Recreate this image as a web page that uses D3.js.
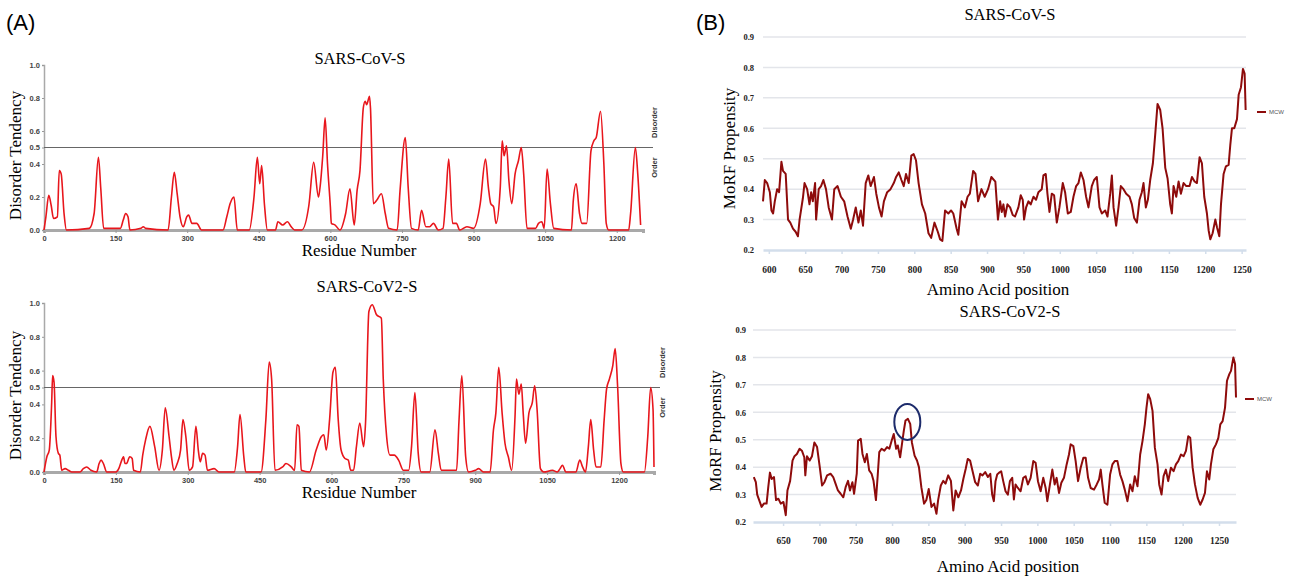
<!DOCTYPE html>
<html>
<head>
<meta charset="utf-8">
<script src="https://cdn.jsdelivr.net/npm/d3@7"></script>
<style>
  body { margin: 0; background: #fff; }
  .serif { font-family: "Liberation Serif", "DejaVu Serif", serif; }
  .sans { font-family: "Liberation Sans", Arial, sans-serif; }
</style>
</head>
<body>
<div id="chart"></div>
<script>
// ---- data ----
// (A) disorder tendency, [residue, score]
const disorderCoV = [[0,0],[4,0.08],[10,0.21],[15,0.15],[20,0.07],[28,0.08],[32,0.36],[36,0.34],[42,0.1],[47,0],[95,0.01],[105,0.1],[114,0.44],[119,0.25],[125,0.01],[160,0.01],[166,0.06],[171,0.10],[176,0.08],[180,0],[203,0.01],[208,0.02],[213,0.01],[260,0],[267,0.2],[273,0.35],[279,0.22],[285,0.08],[292,0.02],[299,0.08],[303,0.09],[310,0.04],[320,0.04],[330,0],[375,0],[383,0.08],[390,0.16],[398,0.20],[405,0],[430,0],[440,0.2],[447,0.44],[452,0.28],[456,0.39],[462,0.15],[468,0],[485,0],[490,0.05],[500,0.03],[510,0.05],[518,0.02],[525,0],[540,0],[555,0.15],[565,0.41],[575,0.2],[578,0.25],[584,0.45],[589,0.68],[594,0.4],[600,0.14],[602,0.04],[610,0.03],[620,0],[632,0.1],[641,0.25],[650,0.03],[656,0.24],[662,0.36],[669,0.74],[673,0.78],[676,0.76],[682,0.81],[684,0.74],[690,0.16],[697,0.18],[707,0.22],[715,0.1],[722,0.01],[740,0],[746,0.24],[757,0.56],[763,0.26],[770,0.01],[784,0],[791,0.12],[800,0.02],[808,0.02],[816,0.04],[826,0],[836,0.01],[842,0.2],[848,0.43],[856,0.04],[864,0.04],[871,0],[886,0.02],[900,0.01],[914,0.16],[925,0.43],[931,0.26],[936,0.16],[942,0.14],[947,0.04],[956,0.26],[960,0.54],[964,0.45],[969,0.51],[974,0.30],[980,0.16],[987,0.34],[994,0.42],[1000,0.50],[1005,0.34],[1012,0.01],[1030,0.01],[1036,0.04],[1043,0.05],[1048,0.01],[1054,0.37],[1061,0.16],[1068,0.01],[1105,0],[1109,0.18],[1115,0.28],[1122,0.1],[1127,0.04],[1137,0.04],[1146,0.48],[1152,0.54],[1157,0.56],[1166,0.72],[1173,0.40],[1178,0.04],[1183,0],[1225,0],[1229,0.10],[1239,0.5],[1244,0.34],[1250,0.03]];

const disorderCoV2 = [[0,0],[6,0.09],[11,0.13],[16,0.41],[18,0.57],[21,0.53],[25,0.21],[30,0.11],[33,0.10],[37,0.01],[44,0.02],[51,0.01],[58,0],[75,0],[82,0.02],[89,0.03],[98,0.01],[110,0],[115,0.05],[119,0.07],[124,0.05],[131,0],[150,0],[156,0.02],[161,0.06],[166,0.09],[169,0.05],[172,0.05],[179,0.09],[184,0.08],[187,0.01],[201,0],[206,0.1],[212,0.19],[221,0.27],[231,0.15],[240,0.01],[247,0.13],[253,0.38],[261,0.21],[266,0.09],[271,0.01],[278,0.05],[285,0.13],[290,0.31],[296,0.21],[303,0.01],[310,0.03],[317,0.27],[322,0.13],[326,0.06],[331,0.11],[336,0.10],[341,0.01],[355,0.02],[365,0],[397,0],[404,0.15],[409,0.34],[417,0.09],[421,0],[453,0],[463,0.31],[470,0.65],[475,0.55],[482,0.01],[498,0.03],[505,0.05],[516,0.03],[523,0.01],[528,0.28],[532,0.27],[537,0.01],[554,0],[568,0.13],[579,0.21],[584,0.22],[589,0.13],[596,0.31],[603,0.59],[608,0.62],[614,0.31],[620,0.13],[628,0.08],[635,0.07],[640,0.01],[646,0.01],[652,0.15],[659,0.29],[667,0.15],[671,0.29],[678,0.95],[685,0.99],[694,0.93],[704,0.91],[708,0.55],[715,0.21],[722,0.10],[731,0.10],[740,0.07],[750,0.01],[761,0.01],[767,0.15],[774,0.47],[781,0.11],[787,0],[805,0],[816,0.25],[823,0.11],[829,0.01],[844,0.01],[861,0.01],[866,0.3],[872,0.57],[880,0.09],[886,0],[900,0.01],[907,0.02],[917,0],[931,0],[938,0.25],[943,0.35],[949,0.62],[956,0.35],[962,0.17],[969,0.09],[976,0.01],[983,0.33],[986,0.55],[991,0.46],[996,0.52],[1000,0.35],[1005,0.17],[1012,0.35],[1019,0.41],[1024,0.51],[1029,0.37],[1036,0.02],[1043,0],[1061,0.01],[1071,0],[1077,0.02],[1082,0.04],[1089,0],[1110,0],[1118,0.07],[1124,0.03],[1130,0],[1136,0.15],[1141,0.31],[1147,0.13],[1152,0.03],[1162,0.03],[1169,0.31],[1174,0.49],[1180,0.55],[1187,0.63],[1192,0.73],[1197,0.51],[1204,0.05],[1209,0],[1253,0],[1260,0.21],[1266,0.5],[1271,0.37],[1273,0.03]];

// (B) MoRF propensity (MCW), [position, score]
const morfCoV = [[592,0.36],[594.5,0.43],[597.7,0.42],[601.4,0.39],[603.6,0.33],[605.9,0.32],[608.2,0.36],[611.4,0.40],[614.1,0.39],[617.3,0.49],[619.5,0.46],[623.2,0.45],[626.4,0.30],[629.5,0.29],[633.2,0.27],[636.8,0.26],[640,0.245],[642.3,0.30],[646.8,0.37],[649.1,0.42],[652.7,0.40],[655.9,0.35],[658.2,0.39],[660.5,0.36],[663.6,0.42],[665,0.30],[668.6,0.40],[671.8,0.41],[675,0.43],[678.6,0.40],[682.3,0.34],[686.8,0.30],[690,0.40],[694.5,0.41],[699.1,0.375],[703.6,0.36],[708.2,0.31],[712.7,0.27],[715.9,0.30],[719.5,0.34],[723.2,0.29],[726.4,0.33],[729.5,0.28],[733.2,0.42],[736.8,0.445],[740,0.41],[744.5,0.44],[747.7,0.385],[751.4,0.34],[755,0.31],[758.2,0.36],[762.7,0.39],[767.3,0.40],[771.8,0.42],[775,0.44],[778.6,0.455],[782.3,0.43],[785.5,0.41],[788.6,0.45],[792.3,0.42],[795.9,0.51],[799.1,0.515],[802.3,0.495],[805.9,0.42],[810.5,0.35],[815,0.32],[819.5,0.255],[823.2,0.24],[827.7,0.29],[832.3,0.26],[835.5,0.235],[838.6,0.23],[842.3,0.33],[846.8,0.32],[850.5,0.33],[853.6,0.32],[858.2,0.27],[860.5,0.25],[865,0.36],[869.5,0.34],[873.2,0.375],[876.4,0.385],[880.9,0.46],[884.1,0.45],[887.7,0.36],[892.3,0.40],[896.8,0.375],[901.4,0.40],[905.9,0.44],[911.4,0.425],[915,0.30],[918,0.36],[920.2,0.325],[922.5,0.35],[924.8,0.31],[928,0.35],[931.7,0.34],[935.3,0.315],[938.5,0.31],[943.1,0.34],[946.3,0.38],[949.1,0.365],[950.9,0.30],[953.7,0.34],[956.9,0.36],[960.1,0.35],[963.8,0.375],[967.4,0.365],[970.6,0.39],[975.2,0.40],[977.5,0.445],[980.7,0.45],[983,0.385],[985.8,0.325],[989,0.385],[992.2,0.38],[995.9,0.29],[999.5,0.34],[1004.1,0.42],[1007.3,0.39],[1011,0.32],[1015.1,0.325],[1018.8,0.375],[1022.5,0.41],[1025.7,0.42],[1028.9,0.455],[1032.6,0.43],[1036.2,0.375],[1039.4,0.34],[1044,0.41],[1047.2,0.43],[1050.9,0.44],[1054.6,0.34],[1057.8,0.32],[1062.4,0.33],[1065.6,0.31],[1069.3,0.385],[1071.6,0.445],[1073.9,0.34],[1077.5,0.28],[1080.7,0.34],[1083.9,0.41],[1087.6,0.40],[1091.3,0.385],[1095.9,0.375],[1099.1,0.35],[1102.3,0.305],[1106,0.29],[1109.6,0.365],[1112.8,0.39],[1115.1,0.42],[1118.3,0.34],[1121.1,0.365],[1124.3,0.43],[1128,0.485],[1131.2,0.58],[1134.4,0.68],[1138.1,0.66],[1141.3,0.60],[1145,0.47],[1148.2,0.435],[1151.8,0.35],[1154.1,0.32],[1156.4,0.41],[1160.1,0.375],[1163.3,0.425],[1166.5,0.385],[1170.2,0.42],[1173.9,0.41],[1178.4,0.41],[1181.7,0.44],[1185.3,0.425],[1188.5,0.42],[1192.2,0.505],[1195.4,0.485],[1198.6,0.375],[1202.3,0.32],[1204.6,0.265],[1206.9,0.235],[1210.1,0.255],[1213.8,0.30],[1216.1,0.275],[1219.3,0.245],[1221.6,0.35],[1225.2,0.45],[1228.4,0.475],[1232.1,0.48],[1234.4,0.545],[1236.7,0.60],[1239.9,0.60],[1243.6,0.63],[1245.9,0.71],[1249.1,0.735],[1251.8,0.795],[1254.1,0.78],[1255.5,0.66]];

const morfCoV2 = [[609.7,0.364],[612.5,0.345],[614.4,0.30],[617.1,0.28],[620.4,0.255],[623.6,0.267],[627.3,0.267],[629.6,0.327],[631.9,0.38],[634.3,0.357],[637.5,0.364],[640.3,0.28],[643.5,0.285],[646.8,0.267],[650.5,0.273],[653.7,0.225],[656,0.315],[659.7,0.35],[663,0.424],[665.7,0.44],[669,0.448],[672.7,0.467],[675.9,0.46],[679.2,0.436],[680.6,0.37],[682.9,0.44],[686.6,0.424],[689.8,0.44],[693.1,0.49],[696.8,0.473],[700.5,0.40],[703.7,0.333],[706.9,0.345],[710.6,0.37],[715.3,0.376],[719,0.364],[722.2,0.34],[725.5,0.315],[729.2,0.303],[732.9,0.29],[736.1,0.327],[739.4,0.35],[742.1,0.315],[745.4,0.345],[747.7,0.303],[751.4,0.376],[753.2,0.497],[756.9,0.503],[759.3,0.448],[762.5,0.418],[765.3,0.448],[768.5,0.388],[771.8,0.376],[774.5,0.35],[777.8,0.28],[780.1,0.364],[782.4,0.455],[785.6,0.467],[789.4,0.46],[793.1,0.473],[796.3,0.467],[799.5,0.497],[802.3,0.521],[805.6,0.467],[807.9,0.479],[811.1,0.436],[813.4,0.479],[816.2,0.533],[818.5,0.57],[821.8,0.576],[825,0.558],[827.3,0.49],[831,0.442],[834.3,0.424],[837,0.40],[840.3,0.327],[844,0.267],[847.2,0.28],[850.5,0.32],[854.2,0.255],[857.9,0.267],[861.1,0.23],[863.4,0.28],[867.1,0.333],[870.4,0.35],[873.6,0.34],[877.3,0.37],[881,0.35],[884.3,0.242],[887.5,0.315],[891.2,0.29],[894.9,0.315],[898.1,0.357],[901.4,0.394],[904.2,0.43],[907.4,0.424],[910.6,0.388],[914.4,0.345],[918.1,0.333],[921.3,0.376],[924.5,0.37],[928.2,0.382],[931.9,0.364],[935.2,0.376],[937.8,0.30],[940.1,0.276],[942.4,0.349],[944.7,0.373],[947,0.379],[950.2,0.385],[953,0.349],[956.2,0.312],[959.4,0.30],[962.2,0.349],[965.4,0.361],[967.7,0.282],[970,0.337],[973.2,0.324],[976.9,0.312],[980.6,0.361],[983.8,0.367],[987,0.337],[990.7,0.361],[994.4,0.422],[997.6,0.416],[1000.8,0.349],[1004.5,0.312],[1008.1,0.361],[1011.4,0.324],[1013.7,0.276],[1017.3,0.337],[1020.6,0.391],[1023.8,0.337],[1026.5,0.361],[1029.8,0.306],[1033,0.343],[1036.6,0.361],[1040.3,0.41],[1043.5,0.446],[1045.8,0.483],[1049.5,0.477],[1052.7,0.422],[1056,0.349],[1059.6,0.398],[1063.3,0.434],[1066.5,0.434],[1069.8,0.361],[1073.4,0.324],[1078,0.318],[1081.7,0.337],[1084.9,0.355],[1087.2,0.391],[1089.5,0.337],[1092.7,0.27],[1096.4,0.263],[1100.1,0.373],[1103.3,0.41],[1106.5,0.422],[1110.2,0.422],[1113.9,0.373],[1117.1,0.349],[1120.3,0.318],[1124,0.276],[1127.7,0.337],[1130.9,0.312],[1134.1,0.367],[1137.8,0.33],[1141.5,0.446],[1144.7,0.495],[1147.9,0.556],[1150.2,0.617],[1152.5,0.666],[1155.3,0.648],[1158.5,0.605],[1161.7,0.471],[1165.4,0.41],[1167.7,0.337],[1170.9,0.30],[1173.7,0.367],[1176.9,0.391],[1180.1,0.349],[1183.8,0.398],[1187.5,0.385],[1190.7,0.41],[1193.9,0.422],[1197.6,0.446],[1201.3,0.44],[1204.5,0.459],[1207.7,0.513],[1210.4,0.507],[1213.7,0.398],[1216.9,0.337],[1220.6,0.288],[1224.2,0.263],[1227.5,0.282],[1230.7,0.306],[1233.4,0.385],[1236.6,0.355],[1238.9,0.41],[1242.2,0.465],[1245.8,0.483],[1249.1,0.507],[1251.8,0.556],[1255,0.568],[1258.3,0.617],[1261,0.715],[1264.2,0.739],[1266.5,0.751],[1269.8,0.80],[1272.1,0.776],[1273.4,0.654]];

const disorderTicksX = [0,150,300,450,600,750,900,1050,1200];
const disorderTicksY = [0,0.2,0.4,0.5,0.6,0.8,1.0];
const morfTicksTop = [600,650,700,750,800,850,900,950,1000,1050,1100,1150,1200,1250];
const morfTicksBottom = [650,700,750,800,850,900,950,1000,1050,1100,1150,1200,1250];
const morfTicksY = [0.2,0.3,0.4,0.5,0.6,0.7,0.8,0.9];
const threshold = 0.5;
const circledPeak = [821, 0.565];

const svg = d3.select("#chart")
  .append("svg")
  .attr("width", 1293)
  .attr("height", 581);

// panel letters
svg.append("text").attr("class","sans").attr("x",6).attr("y",30).attr("font-size",22).text("(A)");
svg.append("text").attr("class","sans").attr("x",696).attr("y",30).attr("font-size",22).text("(B)");

//----- (A) disorder panels -----
function disorderPanel(p) {
  const x = d3.scaleLinear().domain(p.xdom).range([44, p.xend]);
  const y = d3.scaleLinear().domain([0, 1]).range([p.bottom, p.top]);
  const g = svg.append("g");

  g.append("g")
    .attr("transform", `translate(0,${p.bottom})`)
    .call(d3.axisBottom(x).tickValues(disorderTicksX).tickSize(3).tickPadding(3).tickFormat(d3.format("d")))
    .call(a => a.select(".domain").attr("stroke","#a9a9a9").attr("stroke-width",3))
    .call(a => a.selectAll(".tick line").attr("stroke","#999"))
    .call(a => a.selectAll("text").attr("class","sans").attr("font-size",7.5).attr("font-weight","bold").attr("fill","#444"));

  g.append("g")
    .attr("transform", "translate(44,0)")
    .call(d3.axisLeft(y).tickValues(disorderTicksY).tickSize(2).tickPadding(2).tickFormat(d3.format(".1f")))
    .call(a => a.select(".domain").attr("stroke","#a9a9a9").attr("stroke-width",1.5))
    .call(a => a.selectAll(".tick line").attr("stroke","#999"))
    .call(a => a.selectAll("text").attr("class","sans").attr("font-size",7.5).attr("font-weight","bold").attr("fill","#444"));

  g.append("line")
    .attr("x1", 44).attr("x2", p.lineEnd)
    .attr("y1", y(threshold)).attr("y2", y(threshold))
    .attr("stroke", "#666").attr("stroke-width", 1.2);

  g.append("path")
    .datum(p.data)
    .attr("fill","none")
    .attr("stroke","#e8161c")
    .attr("stroke-width",1.6)
    .attr("stroke-linejoin","round")
    .attr("d", d3.line().curve(d3.curveMonotoneX).x(d => x(d[0])).y(d => y(d[1])));

  g.append("text").attr("class","serif").attr("x",p.titleX).attr("y",p.titleY)
    .attr("text-anchor","middle").attr("font-size",16.5).text(p.title);
  g.append("text").attr("class","serif").attr("x",359).attr("y",p.bottom+26)
    .attr("text-anchor","middle").attr("font-size",17).text("Residue Number");
  g.append("text").attr("class","serif")
    .attr("transform",`translate(21,${(p.top+p.bottom)/2+8}) rotate(-90)`)
    .attr("text-anchor","middle").attr("font-size",17).text("Disorder Tendency");

  g.append("text").attr("class","sans")
    .attr("transform",`translate(${p.sideX},${y(threshold)-25}) rotate(-90)`)
    .attr("text-anchor","middle").attr("font-size",7.5).attr("font-weight","bold").attr("fill","#333").text("Disorder");
  g.append("text").attr("class","sans")
    .attr("transform",`translate(${p.sideX},${y(threshold)+20}) rotate(-90)`)
    .attr("text-anchor","middle").attr("font-size",7.5).attr("font-weight","bold").attr("fill","#333").text("Order");
}

disorderPanel({data: disorderCoV, xdom:[0,1255], xend:643, top:65, bottom:230, lineEnd:653,
  title:"SARS-CoV-S", titleX:360, titleY:64, sideX:657});
disorderPanel({data: disorderCoV2, xdom:[0,1273], xend:654, top:303, bottom:472, lineEnd:660,
  title:"SARS-CoV2-S", titleX:367, titleY:292, sideX:665});

//----- (B) MoRF panels -----
function morfPanel(p) {
  const x = d3.scaleLinear().domain(p.xdom).range([p.left, p.right]);
  const y = d3.scaleLinear().domain([0.2, 0.9]).range([p.bottom, p.top]);
  const g = svg.append("g");

  g.selectAll(".grid")
    .data(morfTicksY.slice(1))
    .enter()
    .append("line")
    .attr("x1", p.left).attr("x2", p.right)
    .attr("y1", d => y(d)).attr("y2", d => y(d))
    .attr("stroke", "#e3e5ea").attr("stroke-width", 1.5);

  g.append("g")
    .attr("transform", `translate(0,${p.bottom})`)
    .call(d3.axisBottom(x).tickValues(p.ticks).tickSize(4).tickSizeOuter(0).tickPadding(p.xpad).tickFormat(d3.format("d")))
    .call(a => a.select(".domain").attr("stroke","#d3deeb").attr("stroke-width",2.5))
    .call(a => a.selectAll(".tick line").attr("stroke","#d3deeb").attr("stroke-width",1.5))
    .call(a => a.selectAll("text").attr("class","serif").attr("font-size",9.5).attr("font-weight","bold").attr("fill","#222"));

  g.append("g")
    .attr("transform", `translate(${p.left},0)`)
    .call(d3.axisLeft(y).tickValues(morfTicksY).tickSize(0).tickPadding(p.pad).tickFormat(d3.format(".1f")))
    .call(a => a.select(".domain").remove())
    .call(a => a.selectAll("text").attr("class","serif").attr("font-size",8.5).attr("font-weight","bold").attr("fill","#222"));

  g.append("path")
    .datum(p.data)
    .attr("fill","none")
    .attr("stroke","#8e0b0b")
    .attr("stroke-width",2)
    .attr("stroke-linejoin","round")
    .attr("d", d3.line().x(d => x(d[0])).y(d => y(d[1])));

  // legend
  g.append("line").attr("x1",p.legX).attr("x2",p.legX+9).attr("y1",p.legY).attr("y2",p.legY)
    .attr("stroke","#8e0b0b").attr("stroke-width",2);
  g.append("text").attr("class","sans").attr("x",p.legX+12).attr("y",p.legY+2)
    .attr("font-size",6).attr("fill","#555").text("MCW");

  g.append("text").attr("class","serif").attr("x",1010).attr("y",p.titleY)
    .attr("text-anchor","middle").attr("font-size",16.5).text(p.title);
  g.append("text").attr("class","serif").attr("x",p.labelX).attr("y",p.labelY)
    .attr("text-anchor","middle").attr("font-size",17).text("Amino Acid position");
  g.append("text").attr("class","serif")
    .attr("transform",`translate(${p.ylabX},${(p.top+p.bottom)/2+5}) rotate(-90)`)
    .attr("text-anchor","middle").attr("font-size",17).text("MoRF Propensity");

  if (p.circle) {
    g.append("ellipse")
      .attr("cx", x(p.circle[0])).attr("cy", y(p.circle[1]))
      .attr("rx", 13).attr("ry", 18)
      .attr("fill","none").attr("stroke","#1d2b6b").attr("stroke-width",2);
  }
}

morfPanel({data: morfCoV, xdom:[592,1256], left:763, right:1246, top:37, bottom:250, ticks: morfTicksTop,
  pad:9, xpad:12, legX:1257, legY:112, title:"SARS-CoV-S", titleY:20, labelX:998, labelY:295, ylabX:735});
morfPanel({data: morfCoV2, xdom:[608.6,1273.4], left:753, right:1236, top:330, bottom:522, ticks: morfTicksBottom,
  pad:7, xpad:11, legX:1245, legY:399, title:"SARS-CoV2-S", titleY:317, labelX:1008, labelY:572, ylabX:721,
  circle: circledPeak});
</script>
</body>
</html>
